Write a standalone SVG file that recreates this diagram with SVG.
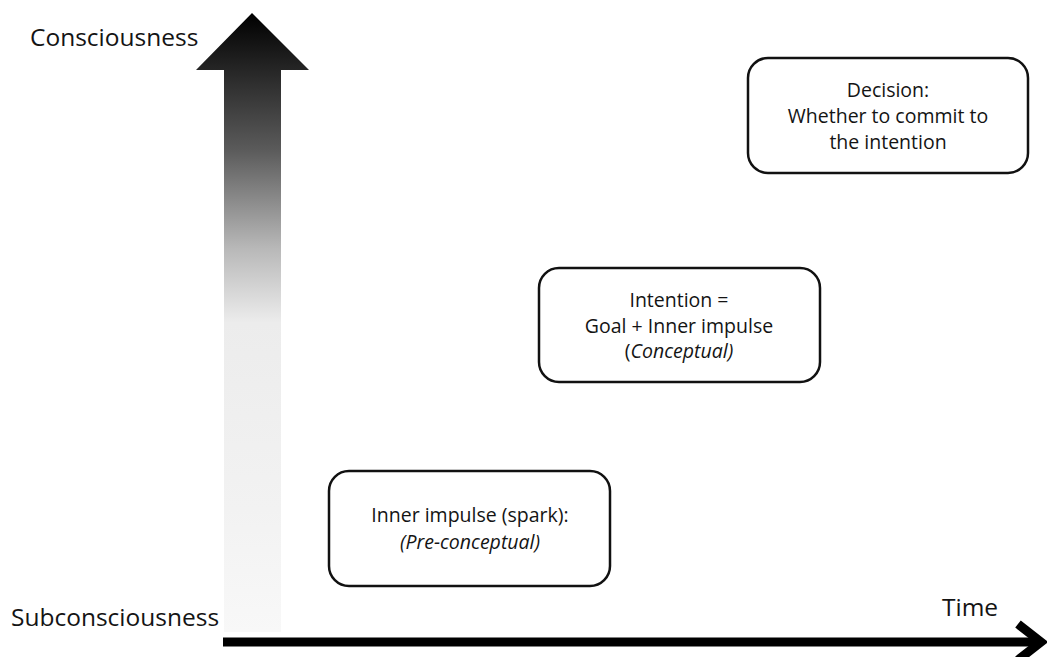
<svg xmlns="http://www.w3.org/2000/svg" width="1047" height="657" viewBox="0 0 1047 657">
<style>
.lbl{font-family:"Open Sans","Liberation Sans",sans-serif;fill:#141414;}
.axis{font-size:24.5px;}
.box{fill:#fff;stroke:#111;stroke-width:2.5;}
.bt{font-size:19.5px;text-anchor:middle;}
.it{font-style:italic;}
</style>
<defs>
<linearGradient id="g" x1="0" y1="13" x2="0" y2="632" gradientUnits="userSpaceOnUse">
<stop offset="0" stop-color="#000"/>
<stop offset="0.22" stop-color="#5a5a5a"/>
<stop offset="0.38" stop-color="#b8b8b8"/>
<stop offset="0.5" stop-color="#ececec"/>
<stop offset="0.8" stop-color="#f2f2f2"/>
<stop offset="1" stop-color="#f8f8f8"/>
</linearGradient>
</defs>
<rect width="1047" height="657" fill="#fff"/>
<g id="connectors">
<polygon points="252,13 309,70 281,70 281,632 224,632 224,70 196,70" fill="url(#g)"/>
<line x1="223" y1="642" x2="1040" y2="642" stroke="#000" stroke-width="9"/>
<polyline points="1018,624 1041,642 1018,660" fill="none" stroke="#000" stroke-width="9"/>
</g>
<g id="axis-labels">
<text class="lbl axis" x="30" y="46">Consciousness</text>
<text class="lbl axis" x="11" y="626">Subconsciousness</text>
<text class="lbl axis" x="942" y="616">Time</text>
</g>
<g id="node-impulse">
<rect class="box" x="329" y="471" width="281" height="115" rx="20"/>
<text class="lbl bt" x="470" y="522">Inner impulse (spark):</text>
<text class="lbl bt it" x="470" y="549">(Pre-conceptual)</text>
</g>
<g id="node-intention">
<rect class="box" x="539" y="268" width="281" height="114" rx="20"/>
<text class="lbl bt" x="679" y="307">Intention =</text>
<text class="lbl bt" x="679" y="333">Goal + Inner impulse</text>
<text class="lbl bt" x="679" y="358">(<tspan class="it">Conceptual)</tspan></text>
</g>
<g id="node-decision">
<rect class="box" x="748" y="58" width="280" height="115" rx="20"/>
<text class="lbl bt" x="888" y="97">Decision:</text>
<text class="lbl bt" x="888" y="123">Whether to commit to</text>
<text class="lbl bt" x="888" y="149">the intention</text>
</g>
</svg>
